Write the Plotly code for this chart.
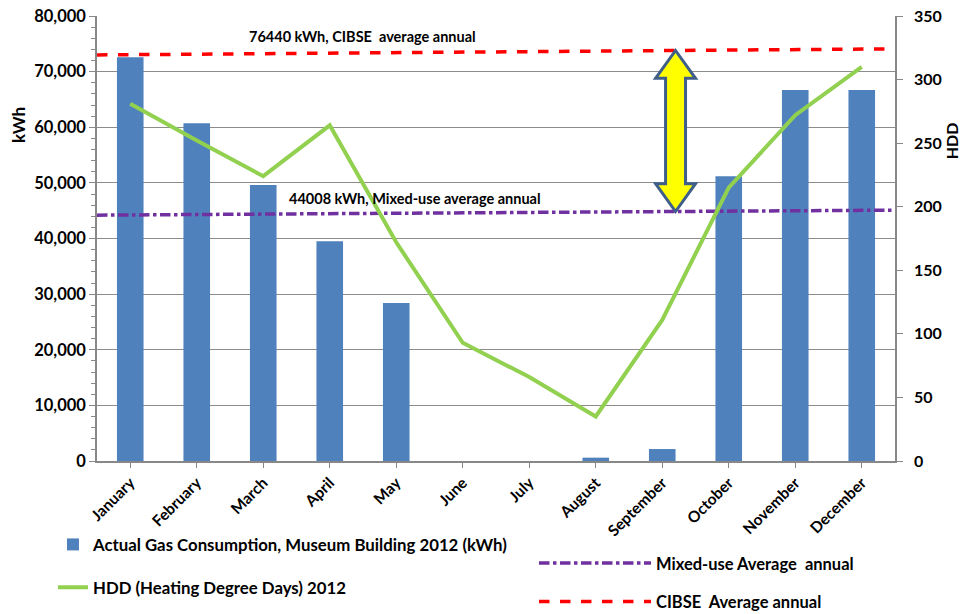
import plotly.graph_objects as go

months = ["January", "February", "March", "April", "May", "June", "July",
          "August", "September", "October", "November", "December"]
gas_kwh = [72600, 60700, 49600, 39500, 28400, 0, 0, 600, 2150, 51200, 66700, 66700]
hdd = [281, 252, 224, 264, 172, 93, 66, 35, 111, 215, 272, 310]
line_x = [-0.5, 11.5]
cibse_line = [73000, 74100]
mixed_line = [44200, 45100]

FONT = "Lato"
x = list(range(len(months)))

fig = go.Figure()
fig.add_trace(go.Bar(x=x, y=gas_kwh, width=0.4, marker=dict(color="#4f81bd", line=dict(width=0)),
                     name="Actual Gas Consumption, Museum Building 2012 (kWh)",
                     legend="legend", legendgroup="a"))
fig.add_trace(go.Scatter(x=x, y=hdd, mode="lines", line=dict(color="#92d050", width=4),
                         name="HDD (Heating Degree Days) 2012", yaxis="y2",
                         legend="legend", legendgroup="b"))
fig.add_trace(go.Scatter(x=line_x, y=mixed_line, mode="lines",
                         line=dict(color="#7030a0", width=3.5, dash="dashdot"),
                         name="Mixed-use Average\u00a0 annual", legend="legend2", legendgroup="c"))
fig.add_trace(go.Scatter(x=line_x, y=cibse_line, mode="lines",
                         line=dict(color="#ff0000", width=3.5, dash="dash"),
                         name="CIBSE\u00a0 Average annual", legend="legend2", legendgroup="d"))

# double-headed arrow between the two reference lines
ax = 8.2
hw, sw = 0.3, 0.15
top = cibse_line[0] + (cibse_line[1] - cibse_line[0]) * (ax + 0.5) / 12
bot = mixed_line[0] + (mixed_line[1] - mixed_line[0]) * (ax + 0.5) / 12
hh = 5000
path = (f"M{ax},{top} L{ax+hw},{top-hh} L{ax+sw},{top-hh} L{ax+sw},{bot+hh} "
        f"L{ax+hw},{bot+hh} L{ax},{bot} L{ax-hw},{bot+hh} L{ax-sw},{bot+hh} "
        f"L{ax-sw},{top-hh} L{ax-hw},{top-hh} Z")
fig.add_shape(type="path", path=path, xref="x", yref="y",
              fillcolor="#ffff00", line=dict(color="#3f5f8a", width=3), layer="above")

fig.add_annotation(x=0.188, y=76300, xref="paper", yref="y", xanchor="left", yanchor="middle",
                   text="76440 kWh, CIBSE\u00a0 average annual", showarrow=False,
                   font=dict(family=FONT, size=14.5, color="black", weight="bold"))
fig.add_annotation(x=0.238, y=47200, xref="paper", yref="y", xanchor="left", yanchor="middle",
                   text="44008 kWh, Mixed-use average annual", showarrow=False,
                   font=dict(family=FONT, size=14.5, color="black", weight="bold"))
fig.add_annotation(x=-0.099, y=0.755, xref="paper", yref="paper", xanchor="center", yanchor="middle",
                   text="kWh", textangle=-90,
                   showarrow=False, font=dict(family=FONT, size=17, color="black", weight="bold"))
fig.add_annotation(x=1.071, y=0.72, xref="paper", yref="paper", xanchor="center", yanchor="middle",
                   text="HDD", textangle=-90,
                   showarrow=False, font=dict(family=FONT, size=16, color="black", weight="bold"))

fig.update_layout(
    width=963, height=614,
    margin=dict(l=97, r=68, t=16, b=153, autoexpand=False),
    plot_bgcolor="white", paper_bgcolor="white",
    font=dict(family=FONT, color="black", size=15, weight="bold"),
    showlegend=True,
    xaxis=dict(range=[-0.5, 11.5], tickvals=x, ticktext=months, tickangle=-45,
               showgrid=False, showline=True, linecolor="#888888", linewidth=1.5,
               ticks="outside", ticklen=5, tickcolor="#888888", automargin=False,
               tickfont=dict(family=FONT, size=15.5, weight="bold"), zeroline=False),
    yaxis=dict(range=[0, 80000], dtick=10000, tickformat=",", showgrid=True,
               gridcolor="#8c8c8c", gridwidth=1, showline=True, linecolor="#888888",
               linewidth=1.5, ticks="outside", ticklen=6, tickcolor="#888888", automargin=False,
               minor=dict(dtick=2000, ticks="outside", ticklen=4, tickcolor="#888888", showgrid=False),
               tickfont=dict(family=FONT, size=16.5, weight="bold"), zeroline=False),
    yaxis2=dict(range=[0, 350], dtick=50, overlaying="y", side="right", showgrid=False,
                showline=True, linecolor="#888888", linewidth=1.5, ticks="outside",
                ticklen=6, tickcolor="#888888", automargin=False, ticklabelstandoff=8,
                tickfont=dict(family=FONT, size=16, weight="bold"), zeroline=False),
    legend=dict(x=0.055, y=0.1417, xref="container", yref="container",
                xanchor="left", yanchor="top", bgcolor="rgba(0,0,0,0)",
                traceorder="grouped", tracegroupgap=18, itemwidth=30,
                font=dict(family=FONT, size=16.8, weight="bold")),
    legend2=dict(x=0.5545, y=0.111, xref="container", yref="container",
                 xanchor="left", yanchor="top", bgcolor="rgba(0,0,0,0)",
                 traceorder="grouped", tracegroupgap=14, itemwidth=112,
                 font=dict(family=FONT, size=16.5, weight="bold")),
)

fig.write_html("out.html")
